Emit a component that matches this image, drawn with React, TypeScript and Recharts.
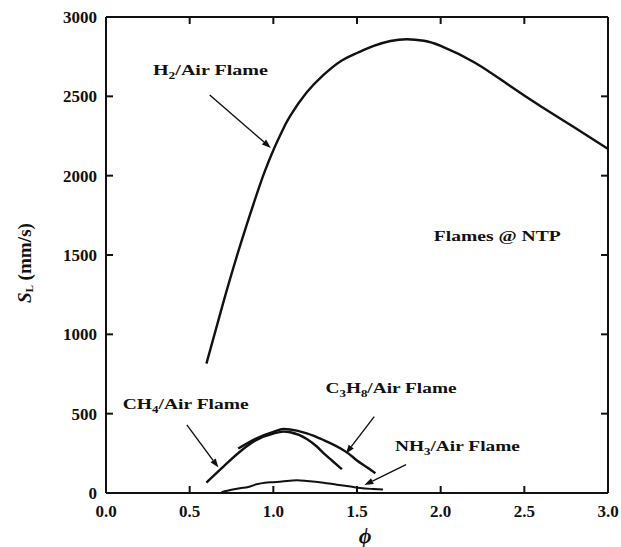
import React from 'react';
import { LineChart, Line, XAxis, YAxis, ReferenceLine, ReferenceDot } from 'recharts';

const phiTicks = [0, 0.5, 1, 1.5, 2, 2.5, 3];
const slTicks = [0, 500, 1000, 1500, 2000, 2500, 3000];

const h2Air = [
  { phi: 0.6, sl: 815 }, { phi: 0.7, sl: 1197 }, { phi: 0.8, sl: 1554 }, { phi: 0.9, sl: 1880 },
  { phi: 0.95, sl: 2030 }, { phi: 1.0, sl: 2160 }, { phi: 1.05, sl: 2275 }, { phi: 1.1, sl: 2375 },
  { phi: 1.2, sl: 2525 }, { phi: 1.3, sl: 2635 }, { phi: 1.4, sl: 2720 }, { phi: 1.5, sl: 2773 },
  { phi: 1.6, sl: 2818 }, { phi: 1.7, sl: 2849 }, { phi: 1.8, sl: 2860 }, { phi: 1.9, sl: 2850 },
  { phi: 2.0, sl: 2818 }, { phi: 2.2, sl: 2715 }, { phi: 2.4, sl: 2576 }, { phi: 2.6, sl: 2436 },
  { phi: 2.8, sl: 2303 }, { phi: 3.0, sl: 2168 },
];

const ch4Air = [
  { phi: 0.6, sl: 66 }, { phi: 0.7, sl: 165 }, { phi: 0.8, sl: 260 }, { phi: 0.9, sl: 335 },
  { phi: 1.0, sl: 375 }, { phi: 1.06, sl: 387 }, { phi: 1.1, sl: 383 }, { phi: 1.2, sl: 341 },
  { phi: 1.26, sl: 293 }, { phi: 1.3, sl: 251 }, { phi: 1.35, sl: 205 }, { phi: 1.41, sl: 150 },
];

const c3h8Air = [
  { phi: 0.79, sl: 280 }, { phi: 0.9, sl: 345 }, { phi: 1.0, sl: 385 }, { phi: 1.06, sl: 403 },
  { phi: 1.1, sl: 400 }, { phi: 1.2, sl: 376 }, { phi: 1.3, sl: 334 }, { phi: 1.4, sl: 282 },
  { phi: 1.45, sl: 248 }, { phi: 1.5, sl: 205 }, { phi: 1.55, sl: 168 }, { phi: 1.61, sl: 125 },
];

const nh3Air = [
  { phi: 0.69, sl: 5 }, { phi: 0.75, sl: 20 }, { phi: 0.8, sl: 30 }, { phi: 0.85, sl: 38 },
  { phi: 0.9, sl: 55 }, { phi: 0.95, sl: 65 }, { phi: 1.0, sl: 68 }, { phi: 1.05, sl: 72 },
  { phi: 1.14, sl: 80 }, { phi: 1.2, sl: 76 }, { phi: 1.3, sl: 65 }, { phi: 1.38, sl: 52 },
  { phi: 1.45, sl: 42 }, { phi: 1.52, sl: 31 }, { phi: 1.6, sl: 25 }, { phi: 1.655, sl: 22 },
];

// text pieces: [text, isSubscript]
const labels = [
  { phi: 0.281, sl: 2632, width: 115, parts: [['H', false], ['2', true], ['/Air Flame', false]] },
  { phi: 1.959, sl: 1588, width: 127, parts: [['Flames @ NTP', false]] },
  { phi: 0.1, sl: 532, width: 126, parts: [['CH', false], ['4', true], ['/Air Flame', false]] },
  { phi: 1.312, sl: 631, width: 131, parts: [['C', false], ['3', true], ['H', false], ['8', true], ['/Air Flame', false]] },
  { phi: 1.727, sl: 266, width: 125, parts: [['NH', false], ['3', true], ['/Air Flame', false]] },
];

const arrows = [
  { x1: 0.62, y1: 2508, x2: 0.985, y2: 2175 },
  { x1: 0.483, y1: 429, x2: 0.672, y2: 160 },
  { x1: 1.603, y1: 481, x2: 1.433, y2: 247 },
  { x1: 1.793, y1: 179, x2: 1.544, y2: 50 },
];

const font = "'Liberation Serif', 'Times New Roman', serif";
const ink = '#111';
const TICK = 7;

const Arrow = (p: any) => {
  const { x1, y1, x2, y2 } = p;
  const a = Math.atan2(y2 - y1, x2 - x1);
  const len = 9;
  const w = 3.2;
  const bx = x2 - len * Math.cos(a);
  const by = y2 - len * Math.sin(a);
  const pts = [
    [x2, y2],
    [bx + w * Math.sin(a), by - w * Math.cos(a)],
    [bx - w * Math.sin(a), by + w * Math.cos(a)],
  ].map((q) => q.join(',')).join(' ');
  return (
    <g>
      <line x1={x1} y1={y1} x2={bx} y2={by} stroke={ink} strokeWidth={1.4} />
      <polygon points={pts} fill={ink} />
    </g>
  );
};

// inward tick marks at both ends of a full-height / full-width reference line
const VTicks = (p: any) => {
  const top = Math.min(p.y1, p.y2);
  const bot = Math.max(p.y1, p.y2);
  return (
    <g stroke={ink} strokeWidth={2}>
      <line x1={p.x1} y1={bot} x2={p.x1} y2={bot - TICK} />
      <line x1={p.x1} y1={top} x2={p.x1} y2={top + TICK} />
    </g>
  );
};

const HTicks = (p: any) => {
  const l = Math.min(p.x1, p.x2);
  const r = Math.max(p.x1, p.x2);
  return (
    <g stroke={ink} strokeWidth={2}>
      <line x1={l} y1={p.y1} x2={l + TICK} y2={p.y1} />
      <line x1={r} y1={p.y1} x2={r - TICK} y2={p.y1} />
    </g>
  );
};

const FlameLabel = ({ cx, cy, parts, width }: any) => {
  let sub = false;
  return (
    <text x={cx} y={cy} style={{ fontFamily: font }} fontWeight="bold" fontSize={15} fill={ink}
      textLength={width} lengthAdjust="spacingAndGlyphs">
      {parts.map(([t, s]: any, i: number) => {
        const dy = s === sub ? 0 : s ? 4 : -4;
        sub = s;
        return (
          <tspan key={i} dy={dy} fontSize={s ? 10 : 15}>{t}</tspan>
        );
      })}
    </text>
  );
};

const YLabel = ({ viewBox }: any) => {
  const cx = viewBox.x + 25;
  const cy = viewBox.y + viewBox.height / 2 + 8;
  return (
    <text x={cx} y={cy} transform={`rotate(-90 ${cx} ${cy})`} textAnchor="middle" dominantBaseline="central"
      style={{ fontFamily: font }} fontWeight="bold" fontSize={18} fill={ink}
      textLength={80} lengthAdjust="spacingAndGlyphs">
      <tspan fontStyle="italic">S</tspan>
      <tspan fontSize={10} dy={4}>L</tspan>
      <tspan dy={-4}> (mm/s)</tspan>
    </text>
  );
};

const XLabel = ({ viewBox }: any) => (
  <text x={viewBox.x + viewBox.width / 2 + 8} y={viewBox.y + 42} textAnchor="middle" dominantBaseline="central"
    style={{ fontFamily: font }} fontWeight="bold" fontStyle="italic" fontSize={22} fill={ink}>ϕ</text>
);

const tickStyle = { fontFamily: font, fontWeight: 'bold', fontSize: 17, fill: ink };

export default function App() {
  return (
    <div style={{ position: 'absolute', left: 0, top: 0, background: '#fff' }}>
      <LineChart width={621} height={547} margin={{ top: 17, right: 13, bottom: 0, left: 0 }}>
        <XAxis type="number" dataKey="phi" domain={[0, 3]} ticks={phiTicks} allowDataOverflow
          tickFormatter={(v: number) => v.toFixed(1)} height={54} tickSize={0} tickMargin={12}
          axisLine={false} tickLine={false} tick={tickStyle} label={<XLabel />} />
        <YAxis type="number" domain={[0, 3000]} ticks={slTicks} width={106} tickSize={0} tickMargin={9}
          axisLine={false} tickLine={false} tick={tickStyle} label={<YLabel />} />
        {/* frame box */}
        <ReferenceLine x={0} stroke={ink} strokeWidth={2} />
        <ReferenceLine x={3} stroke={ink} strokeWidth={2} />
        <ReferenceLine y={0} stroke={ink} strokeWidth={2} />
        <ReferenceLine y={3000} stroke={ink} strokeWidth={2} />
        {phiTicks.map((t) => (
          <ReferenceLine key={'vt' + t} x={t} shape={VTicks} />
        ))}
        {slTicks.map((t) => (
          <ReferenceLine key={'ht' + t} y={t} shape={HTicks} />
        ))}
        <Line data={h2Air} dataKey="sl" type="natural" stroke={ink} strokeWidth={2.4} dot={false} isAnimationActive={false} />
        <Line data={ch4Air} dataKey="sl" type="monotone" stroke={ink} strokeWidth={2.4} dot={false} isAnimationActive={false} />
        <Line data={c3h8Air} dataKey="sl" type="monotone" stroke={ink} strokeWidth={2.4} dot={false} isAnimationActive={false} />
        <Line data={nh3Air} dataKey="sl" type="monotone" stroke={ink} strokeWidth={2} dot={false} isAnimationActive={false} />
        {arrows.map((a, i) => (
          <ReferenceLine key={'a' + i} segment={[{ x: a.x1, y: a.y1 }, { x: a.x2, y: a.y2 }]} shape={Arrow} />
        ))}
        {labels.map((l, i) => (
          <ReferenceDot key={'l' + i} x={l.phi} y={l.sl} r={0}
            shape={(p: any) => <FlameLabel cx={p.cx} cy={p.cy} parts={l.parts} width={l.width} />} />
        ))}
      </LineChart>
    </div>
  );
}
